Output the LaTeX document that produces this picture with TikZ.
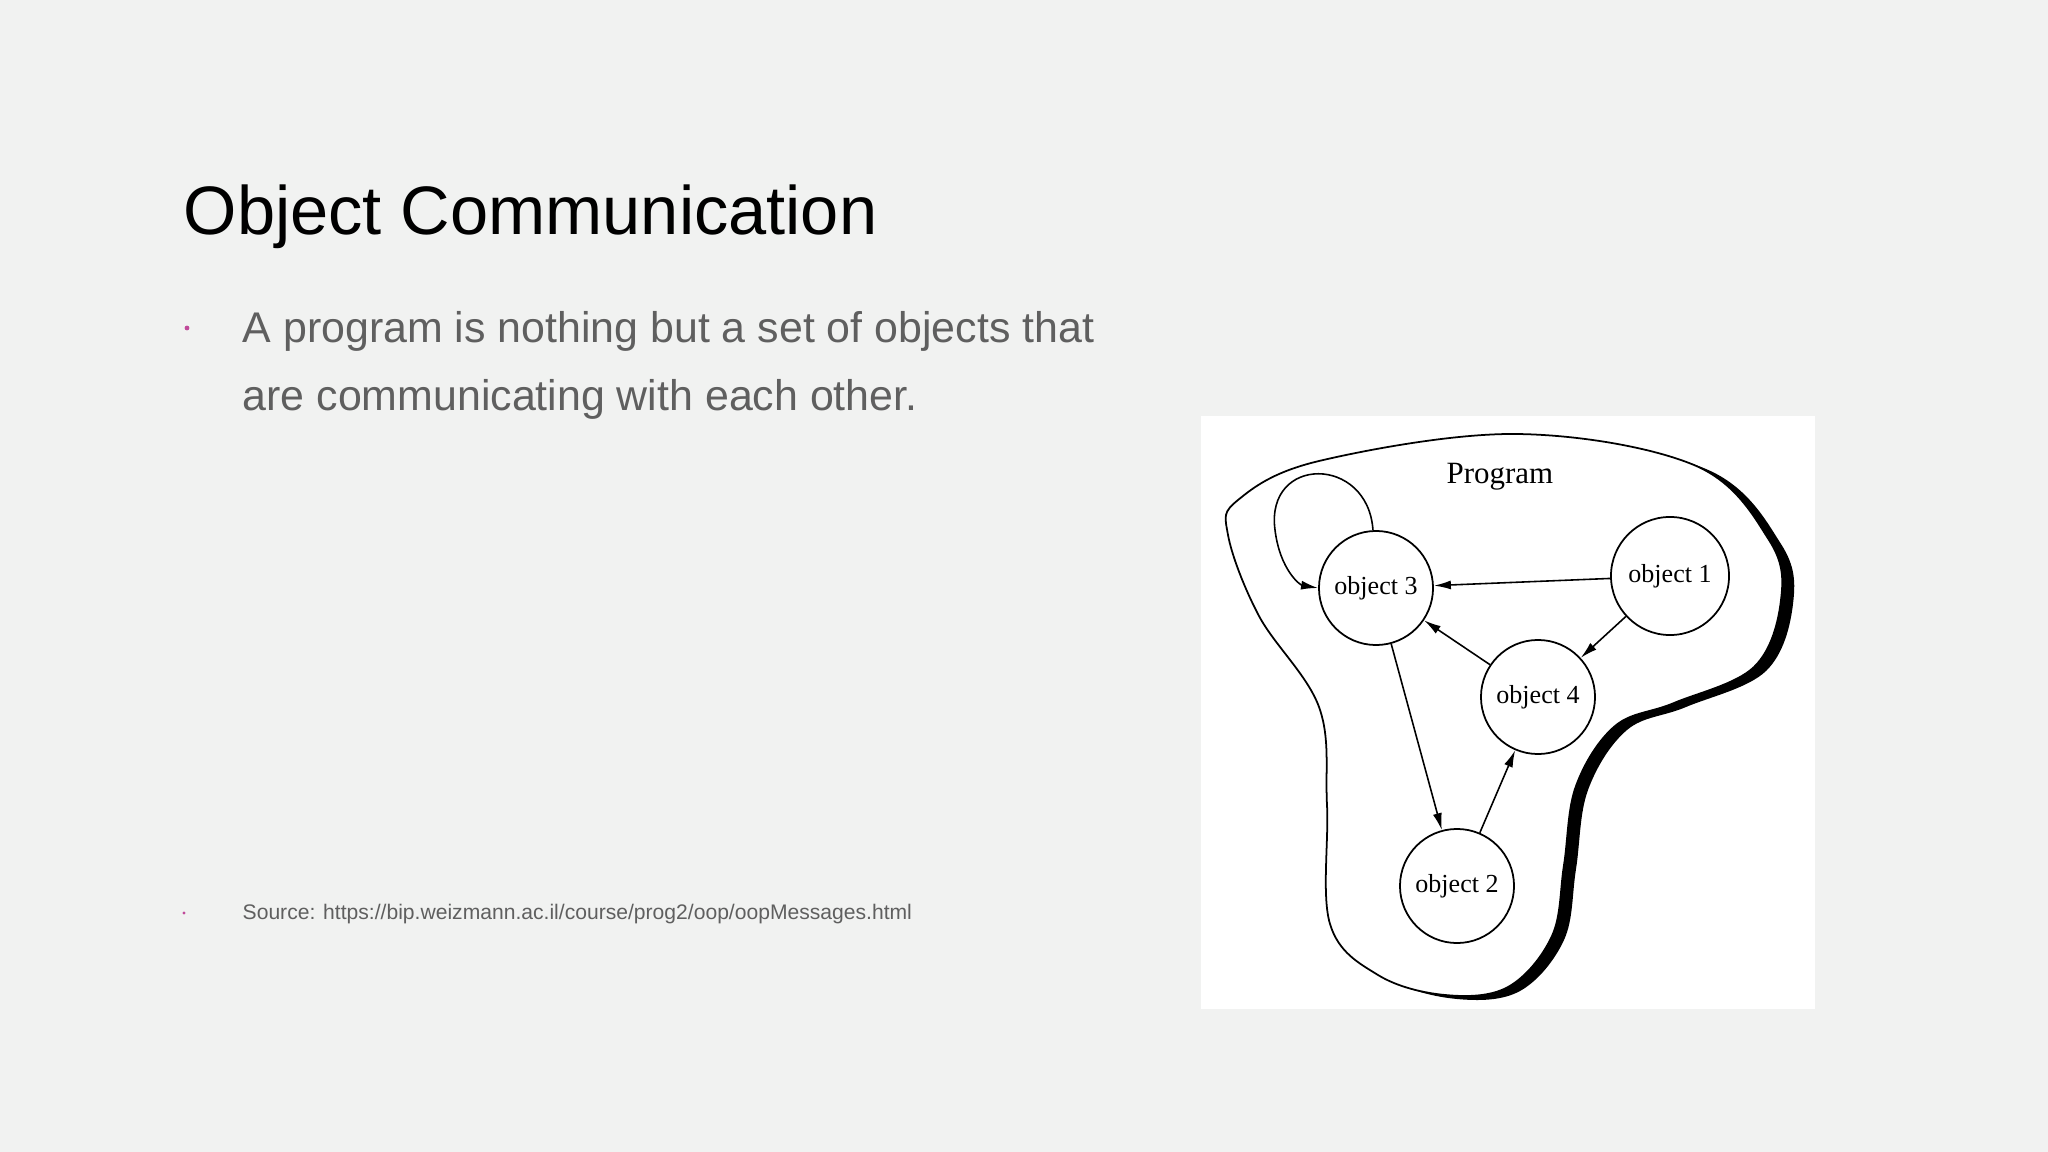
\documentclass[tikz,border=0pt]{standalone}
\usepackage{fontspec}
\setmainfont{Liberation Sans}
\newfontfamily\dserif{Liberation Serif}
\usetikzlibrary{arrows.meta}
\definecolor{bg}{HTML}{F1F2F1}
\definecolor{bodygray}{HTML}{5F5F5F}
\definecolor{dotpink}{HTML}{C04A9A}
\tikzset{
  obj/.style={circle,draw,line width=0.5pt,minimum size=1.14cm,inner sep=0pt,font=\dserif\fontsize{7.4}{8}\selectfont,fill=white},
  msg/.style={line width=0.45pt,-{Latex[length=0.17cm,width=0.09cm]}},
}
\begin{document}
\begin{tikzpicture}[x=0.01cm,y=-0.01cm]
\fill[bg] (0,0) rectangle (2048,1152);
\useasboundingbox (0,0) rectangle (2048,1152);
% title and text
\node[anchor=base west,inner sep=0pt,font=\fontsize{19.5}{24}\selectfont] (title) at (183,235) {Object Communication};
\fill[dotpink] (187,328) circle (2.4);
\node[anchor=base west,inner sep=0pt,text=bodygray,font=\fontsize{12.2}{15}\selectfont] (l1) at (242,343) {A program is nothing but a set of objects that};
\node[anchor=base west,inner sep=0pt,text=bodygray,font=\fontsize{12.2}{15}\selectfont] (l2) at (242,411) {are communicating with each other.};
\fill[dotpink] (184,913) circle (1.6);
\node[anchor=base west,inner sep=0pt,text=bodygray,font=\fontsize{6.0}{7}\selectfont] (src) at (242,919) {Source: https://bip.weizmann.ac.il/course/prog2/oop/oopMessages.html};
% image panel
\fill[white] (1201,416) rectangle (1815,1009);
\def\blob{plot[smooth cycle,tension=0.6] coordinates {(1238,500) (1319,461) (1516,434) (1694,465) (1769,540) (1781,600) (1754,667) (1674,703) (1615,726) (1576,786) (1564,865) (1552,936) (1508,987) (1445,995) (1378,975) (1330,924) (1327,805) (1319,707) (1259,616) (1228,535)}}
\begin{scope}[shift={(12,4)}]
\fill[black] \blob;
\end{scope}
\filldraw[fill=white,draw=black,line width=0.5pt] \blob;
\node[font=\dserif\fontsize{8.8}{10}\selectfont] (prog) at (1500,477) {Program};
\node[obj] (o3) at (1376,588) {object 3};
\node[obj,minimum size=1.18cm] (o1) at (1670,576) {object 1};
\node[obj] (o4) at (1538,697) {object 4};
\node[obj] (o2) at (1457,886) {object 2};
\draw[msg] (o1) -- (o3);
\draw[msg] (o1) -- (o4);
\draw[msg] (o4) -- (o3);
\draw[msg] (o3) -- (o2);
\draw[msg] (o2) -- (o4);
\draw[msg] (o3.93) .. controls (1368,455) and (1265,455) .. (1275,530) .. controls (1280,570) and (1300,585) .. (o3.180);
\end{tikzpicture}
\end{document}
